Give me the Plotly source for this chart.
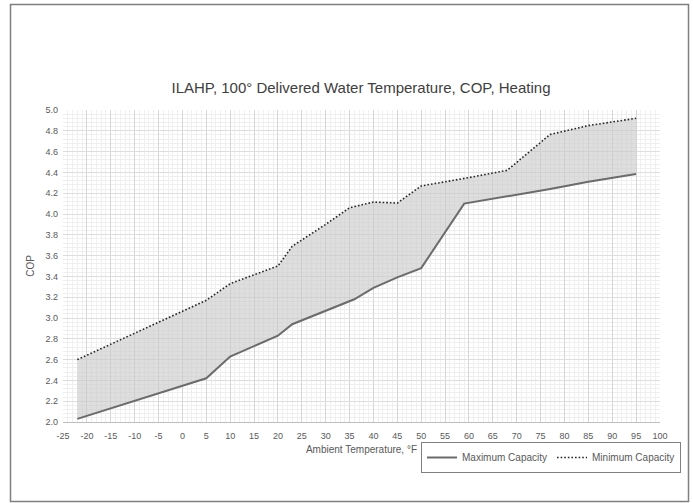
import plotly.graph_objects as go

# Data
max_temp = [-22, 5, 10, 20, 23, 36, 40, 45, 50, 59, 77, 85, 95]
max_cop = [2.03, 2.42, 2.63, 2.83, 2.94, 3.18, 3.29, 3.39, 3.48, 4.10, 4.24, 4.31, 4.385]

min_temp = [-22, 5, 10, 20, 23, 30, 35, 40, 45, 50, 60, 68, 77, 85, 95]
min_cop = [2.60, 3.17, 3.33, 3.50, 3.69, 3.90, 4.06, 4.115, 4.105, 4.27, 4.35, 4.42, 4.765, 4.85, 4.92]

x_ticks = list(range(-25, 101, 5))
x_labels = [str(v) for v in x_ticks]  # plain hyphen minus like the reference
y_ticks = [round(2.0 + 0.2 * i, 1) for i in range(16)]
y_labels = [f"{v:.1f}" for v in y_ticks]

FONT = "Liberation Sans"
TXT = "#595959"

fig = go.Figure()

# shaded band between the two curves
fig.add_trace(go.Scatter(
    x=min_temp + max_temp[::-1],
    y=min_cop + max_cop[::-1],
    fill="toself", fillcolor="rgba(200,200,200,0.6)",
    line=dict(width=0), mode="lines", showlegend=False, hoverinfo="skip",
))
fig.add_trace(go.Scatter(
    x=max_temp, y=max_cop, mode="lines", name="Maximum Capacity",
    line=dict(color="#6b6b6b", width=2),
))
fig.add_trace(go.Scatter(
    x=min_temp, y=min_cop, mode="lines", name="Minimum Capacity",
    line=dict(color="#262626", width=1.6, dash="1.6px,2px"),
))

W, H = 693, 503
L, R, T, B = 63, 33, 110, 81
pw, ph = W - L - R, H - T - B

def px2paper_x(px):
    return (px - L) / pw

def px2paper_y(py):
    return (H - B - py) / ph

fig.update_layout(
    width=W, height=H,
    margin=dict(l=L, r=R, t=T, b=B, autoexpand=False),
    paper_bgcolor="white", plot_bgcolor="white",
    font=dict(family=FONT, size=9, color=TXT),
    title=dict(text="ILAHP, 100° Delivered Water Temperature, COP, Heating",
               x=px2paper_x(361), xref="paper", xanchor="center",
               y=(H - 88) / H, yanchor="middle",
               font=dict(family=FONT, size=15, color="#404040")),
    xaxis=dict(
        range=[-25, 100], tickvals=x_ticks, ticktext=x_labels, ticks="",
        showline=True, linecolor="#bfbfbf", linewidth=1, mirror=False,
        showgrid=True, gridcolor="#d6d6d6", gridwidth=1,
        minor=dict(dtick=1, showgrid=True, gridcolor="#efefef", gridwidth=1),
        zeroline=False, tickfont=dict(size=9, color=TXT), ticklabelstandoff=5,
        title=dict(text="Ambient Temperature, °F", font=dict(size=10, color=TXT), standoff=6),
        fixedrange=True,
    ),
    yaxis=dict(
        range=[2.0, 5.0], tickvals=y_ticks, ticktext=y_labels, ticks="",
        showline=False, showgrid=True, gridcolor="#dedede", gridwidth=1,
        minor=dict(dtick=0.04, showgrid=True, gridcolor="#efefef", gridwidth=1),
        zeroline=False, tickfont=dict(size=9, color=TXT), ticklabelstandoff=4,
        title=dict(text="COP", font=dict(size=10, color=TXT), standoff=8),
        fixedrange=True,
    ),
    legend=dict(
        orientation="h", x=px2paper_x(421), xanchor="left",
        y=px2paper_y(442), yanchor="top",
        bordercolor="#808080", borderwidth=1, bgcolor="white",
        font=dict(size=10, color=TXT), itemwidth=30,
        tracegroupgap=0,
    ),
    showlegend=True,
)

# outer chart border
fig.add_shape(type="rect", xref="paper", yref="paper",
              x0=px2paper_x(10.5), x1=px2paper_x(688.5),
              y0=px2paper_y(501.5), y1=px2paper_y(4.5),
              line=dict(color="#7f7f7f", width=1.5), fillcolor="rgba(0,0,0,0)",
              layer="below")

fig.write_html("out.html",
               config={"displayModeBar": False, "staticPlot": True},
               post_script="document.body.style.margin='0';document.body.style.padding='0';")
